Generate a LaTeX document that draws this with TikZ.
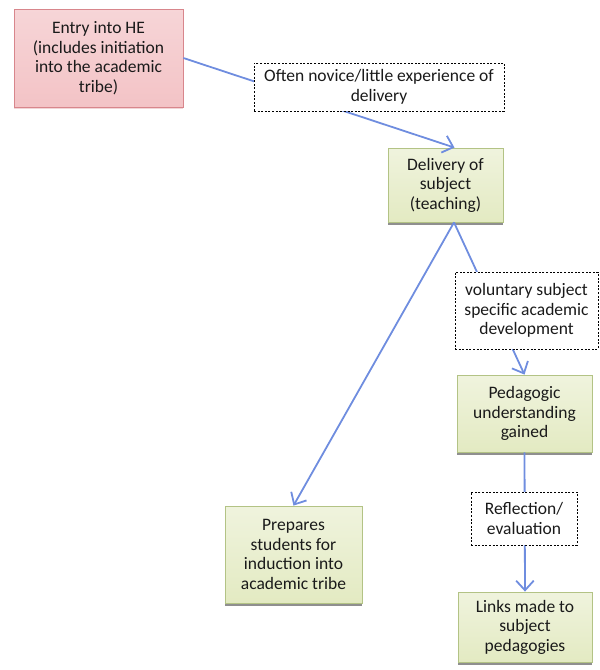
\documentclass[tikz,border=0pt]{standalone}
\usepackage{fontspec}
\setmainfont{Carlito}
\usetikzlibrary{arrows.meta,shadows}
\definecolor{greenfill}{HTML}{E3EAC2}
\definecolor{greenedge}{HTML}{B3C385}
\definecolor{pinkfill}{HTML}{F3C3C6}
\definecolor{pinkedge}{HTML}{D8868C}
\definecolor{arrowblue}{HTML}{6F8DDF}
\definecolor{txt}{HTML}{1A1A1A}
\tikzset{
  base/.style={align=center, inner sep=0pt, text=txt,
    font=\fontsize{17.5}{19.5}\selectfont},
  greenbox/.style={base, draw=greenedge, line width=0.8pt,
    top color=greenfill!55!white, bottom color=greenfill,
    drop shadow={shadow xshift=0pt, shadow yshift=-2.5pt, opacity=0.55, fill=black!80}},
  pinkbox/.style={base, draw=pinkedge, line width=0.8pt,
    top color=pinkfill!70!white, bottom color=pinkfill,
    drop shadow={shadow xshift=0pt, shadow yshift=-2pt, opacity=0.35, fill=pinkedge}},
  dashbox/.style={base, draw=black, fill=white, line width=0.9pt,
    dash pattern=on 2pt off 1.6pt},
  conn/.style={draw=arrowblue, line width=1.8pt,
    -{Straight Barb[length=6pt,width=11pt,scale=1.6]}},
}
\begin{document}
\begin{tikzpicture}[x=1pt,y=-1pt]
\useasboundingbox (0,0) rectangle (600,670);
\node[pinkbox, minimum width=169pt, minimum height=98pt] (entry) at (98.5,58)
  {Entry into HE\\(includes initiation\\into the academic\\tribe)};
\node[greenbox, minimum width=115pt, minimum height=74pt] (delivery) at (445.5,185)
  {Delivery of\\subject\\(teaching)};
\node[greenbox, minimum width=135pt, minimum height=77pt] (pedagogic) at (524.5,413.5)
  {Pedagogic\\understanding\\gained};
\node[greenbox, minimum width=137pt, minimum height=97pt] (prepares) at (293.5,554.5)
  {Prepares\\students for\\induction into\\academic tribe};
\node[greenbox, minimum width=134pt, minimum height=70pt] (links) at (525,627)
  {Links made to\\subject\\pedagogies};
\draw[conn] (entry.east) -- ([xshift=9pt]delivery.north);
\draw[conn] ([xshift=8.5pt]delivery.south) -- (prepares.north);
\draw[conn] ([xshift=8.5pt]delivery.south) -- (pedagogic.north);
\draw[conn] (pedagogic.south) -- (links.north);
\node[dashbox, minimum width=250pt, minimum height=48pt] (novice) at (379,87)
  {Often novice/little experience of\\delivery};
\node[dashbox, minimum width=143pt, minimum height=77pt] (voluntary) at (526.5,310.5)
  {voluntary subject\\specific academic\\development};
\node[dashbox, minimum width=106pt, minimum height=53pt] (reflection) at (524,518.5)
  {Reflection/\\evaluation};
\end{tikzpicture}
\end{document}
